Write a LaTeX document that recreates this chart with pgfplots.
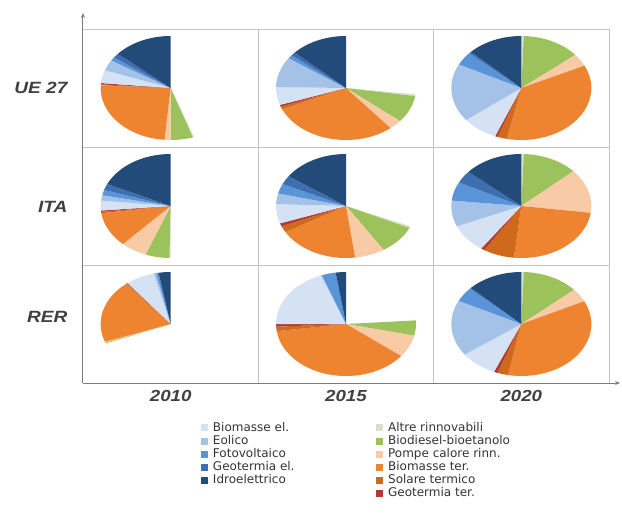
\documentclass[border=0pt]{standalone}
\usepackage{pgfplots}
\pgfplotsset{compat=1.18}
\usepackage{pgfplotstable}
\usepackage{fontspec}
\setmainfont{DejaVu Sans}
\newfontfamily\labfont{Liberation Sans}
\usetikzlibrary{arrows.meta}

\definecolor{cA}{HTML}{D9DECF}
\definecolor{cB}{HTML}{9BC25B}
\definecolor{cP}{HTML}{F8CBA6}
\definecolor{cT}{HTML}{EE8330}
\definecolor{cS}{HTML}{CF6A1C}
\definecolor{cG}{HTML}{B23A32}
\definecolor{cE}{HTML}{D5E2F3}
\definecolor{cW}{HTML}{A4C2E8}
\definecolor{cF}{HTML}{5A94D8}
\definecolor{cH}{HTML}{3D6FB0}
\definecolor{cI}{HTML}{234B7A}
\definecolor{labgray}{HTML}{404040}
\definecolor{gridgray}{HTML}{C4C4C4}
\definecolor{axgray}{HTML}{7A7A7A}

% pie slice mark: angles clockwise from 12 o'clock
\pgfdeclareplotmark{pieslice}{%
  \pgfkeys{/pgf/fpu=true}%
  \pgfmathparse{90-\sA}\pgfmathfloattofixed{\pgfmathresult}\let\angS\pgfmathresult
  \pgfmathparse{90-\sE}\pgfmathfloattofixed{\pgfmathresult}\let\angE\pgfmathresult
  \pgfkeys{/pgf/fpu=false}%
  \pgfpathmoveto{\pgfpointorigin}%
  \pgfpathlineto{\pgfpoint{70pt*cos(\angS)}{52pt*sin(\angS)}}%
  \pgfpatharc{\angS}{\angE}{70pt and 52pt}%
  \pgfpathclose
  \pgfusepathqfill
}

% x: column (2010,2015,2020), y: row (RER,ITA,UE27), s/e: start/end angle in degrees
\pgfplotstableread{
x y s e
0.5 2.5 160.5 161.5
1.5 2.5 97 99
2.5 2.5 0 2
0.5 1.5 180 181
1.5 1.5 113 115
2.5 1.5 0 2
2.5 0.5 0 2
}\dA
\pgfplotstableread{
x y s e
0.5 2.5 161.5 180
1.5 2.5 99 129.5
2.5 2.5 2 50.5
0.5 1.5 181 201
1.5 1.5 115 147.5
2.5 1.5 2 48
0.5 0.5 248 249
1.5 0.5 86 103
2.5 0.5 2 49
}\dB
\pgfplotstableread{
x y s e
0.5 2.5 180 185
1.5 2.5 129.5 140.5
2.5 2.5 50.5 64.5
0.5 1.5 201 223
1.5 1.5 147.5 172.5
2.5 1.5 48 97.5
0.5 0.5 249 250
1.5 0.5 103 128
2.5 0.5 49 64
}\dP
\pgfplotstableread{
x y s e
0.5 2.5 185 273
1.5 2.5 140.5 246
2.5 2.5 64.5 192
0.5 1.5 223 262
1.5 1.5 172.5 240
2.5 1.5 97.5 186
0.5 0.5 250 321
1.5 0.5 128 262
2.5 0.5 64 191
}\dT
\pgfplotstableread{
x y s e
0.5 2.5 273 274
1.5 2.5 246 249
2.5 2.5 192 200
0.5 1.5 262 263.5
1.5 1.5 240 247
2.5 1.5 186 212
0.5 0.5 321 321.5
1.5 0.5 262 267
2.5 0.5 191 200
}\dS
\pgfplotstableread{
x y s e
0.5 2.5 274 275.5
1.5 2.5 249 251
2.5 2.5 200 202
0.5 1.5 263.5 265
1.5 1.5 247 250.5
2.5 1.5 212 215
0.5 0.5 321.5 322
1.5 0.5 267 270
2.5 0.5 200 203
}\dG
\pgfplotstableread{
x y s e
0.5 2.5 275.5 290
1.5 2.5 251 271
2.5 2.5 202 232
0.5 1.5 265 276
1.5 1.5 250.5 272
2.5 1.5 215 247
0.5 0.5 322 346
1.5 0.5 270 339
2.5 0.5 203 234
}\dE
\pgfplotstableread{
x y s e
0.5 2.5 290 302
1.5 2.5 271 305
2.5 2.5 232 297
0.5 1.5 276 282
1.5 1.5 272 284
2.5 1.5 247 276
0.5 0.5 346 348
1.5 0.5 339 340
2.5 0.5 234 296.5
}\dW
\pgfplotstableread{
x y s e
0.5 2.5 302 306
1.5 2.5 305 309
2.5 2.5 297 312
0.5 1.5 282 288
1.5 1.5 284 295
2.5 1.5 276 297
0.5 0.5 348 350
1.5 0.5 340 351.5
2.5 0.5 296.5 313
}\dF
\pgfplotstableread{
x y s e
0.5 2.5 306 311
1.5 2.5 309 313
2.5 2.5 312 314
0.5 1.5 288 295
1.5 1.5 295 305
2.5 1.5 297 311
2.5 0.5 313 314
}\dH
\pgfplotstableread{
x y s e
0.5 2.5 311 360
1.5 2.5 313 360
2.5 2.5 314 360
0.5 1.5 295 360
1.5 1.5 305 360
2.5 1.5 311 360
0.5 0.5 350 360
1.5 0.5 351.5 360
2.5 0.5 314 360
}\dI

\pgfplotsset{
  pie/.style={forget plot, scatter, only marks, mark=pieslice,
    scatter/use mapped color={fill=#1, draw=none},
    visualization depends on={\thisrow{s}\as\sA},
    visualization depends on={\thisrow{e}\as\sE}},
}
\newcommand\lab[1]{\scalebox{1.17}[1]{#1}}

\begin{document}
\begin{tikzpicture}
\path[use as bounding box] (0,0) rectangle (622pt,520pt);
\begin{axis}[
  at={(83pt,137pt)}, anchor=south west,
  scale only axis, width=526pt, height=354pt,
  xmin=0, xmax=3, ymin=0, ymax=3,
  clip=false,
  axis line style={draw=none},
  major tick length=0pt, minor tick length=0pt,
  xtick={0.5,1.5,2.5}, xticklabels={\lab{2010},\lab{2015},\lab{2020}},
  ytick={0.56,1.49,2.5}, yticklabels={\lab{RER},\lab{ITA},\lab{UE 27}},
  minor xtick={1,2,3}, minor ytick={1,2,3},
  grid=minor,
  minor grid style={draw=gridgray, line width=0.9pt},
  xticklabel style={font=\labfont\bfseries\itshape\fontsize{16}{18}\selectfont, text=labgray, yshift=-4pt},
  yticklabel style={font=\labfont\bfseries\itshape\fontsize{16.3}{18}\selectfont, text=labgray, xshift=-12pt},
  legend image code/.code={\fill[#1, draw=none] (0pt,-3.5pt) rectangle (7pt,3.5pt);},
  legend columns=2,
  legend cell align=left,
  legend style={at={(0.2243,-0.108)}, anchor=north west, draw=none, fill=none,
    font=\fontsize{12}{13}\selectfont, inner sep=0pt, row sep=0pt,
    nodes={inner sep=0.8pt, text height=8.9pt, text depth=2.6pt, text=black!80},
    /tikz/every odd column/.append style={column sep=4pt},
    /tikz/every even column/.append style={column sep=81pt}},
]
\addplot[pie=cA] table {\dA};
\addplot[pie=cB] table {\dB};
\addplot[pie=cP] table {\dP};
\addplot[pie=cT] table {\dT};
\addplot[pie=cS] table {\dS};
\addplot[pie=cG] table {\dG};
\addplot[pie=cE] table {\dE};
\addplot[pie=cW] table {\dW};
\addplot[pie=cF] table {\dF};
\addplot[pie=cH] table {\dH};
\addplot[pie=cI] table {\dI};

\addlegendimage{fill=cE}\addlegendentry{Biomasse el.}
\addlegendimage{fill=cA}\addlegendentry{Altre rinnovabili}
\addlegendimage{fill=cW}\addlegendentry{Eolico}
\addlegendimage{fill=cB}\addlegendentry{Biodiesel-bioetanolo}
\addlegendimage{fill=cF}\addlegendentry{Fotovoltaico}
\addlegendimage{fill=cP}\addlegendentry{Pompe calore rinn.}
\addlegendimage{fill=cH}\addlegendentry{Geotermia el.}
\addlegendimage{fill=cT}\addlegendentry{Biomasse ter.}
\addlegendimage{fill=cI}\addlegendentry{Idroelettrico}
\addlegendimage{fill=cS}\addlegendentry{Solare termico}
\addlegendimage{empty legend}\addlegendentry{}
\addlegendimage{fill=cG}\addlegendentry{Geotermia ter.}

\draw[axgray, line width=1pt, -{Stealth[length=5pt,width=4pt]}] (axis cs:0,0) -- (axis cs:0,3.136);
\draw[axgray, line width=1pt, -{Stealth[length=5pt,width=4pt]}] (axis cs:0,0) -- (axis cs:3.063,0);
\end{axis}
\end{tikzpicture}
\end{document}
